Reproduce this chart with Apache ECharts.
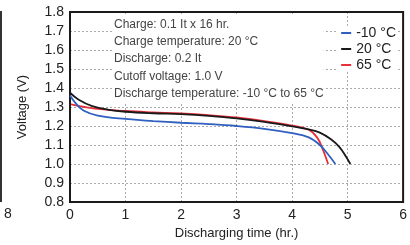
<!DOCTYPE html>
<html>
<head>
<meta charset="utf-8">
<script src="https://cdn.jsdelivr.net/npm/echarts@6/dist/echarts.min.js"></script>
<style>
  html, body { margin: 0; padding: 0; background: #fff; }
  #chart { width: 410px; height: 245px; }
</style>
</head>
<body>
<div id="chart"></div>
<script>
// discharge curves: [time (hr), voltage (V)]
const minus10 = [[0, 1.36], [0.1, 1.32], [0.25, 1.28], [0.5, 1.255], [1, 1.237], [1.5, 1.226], [2, 1.217],
  [2.5, 1.21], [3, 1.2], [3.5, 1.185], [4, 1.162], [4.3, 1.14], [4.5, 1.1], [4.65, 1.05], [4.78, 1.0]]
const plus20 = [[0, 1.375], [0.15, 1.34], [0.4, 1.305], [0.7, 1.285], [1, 1.275], [1.5, 1.267], [2, 1.262],
  [2.5, 1.253], [3, 1.24], [3.5, 1.222], [4, 1.198], [4.3, 1.182], [4.5, 1.165], [4.7, 1.13], [4.85, 1.09],
  [4.97, 1.04], [5.05, 1.0]]
const plus65 = [[0, 1.315], [0.3, 1.298], [0.6, 1.287], [1, 1.279], [1.5, 1.272], [2, 1.266], [2.5, 1.257],
  [3, 1.245], [3.5, 1.226], [4, 1.202], [4.3, 1.18], [4.45, 1.14], [4.55, 1.08], [4.65, 1.0]]
const seriesNames = ['-10 °C', '20 °C', '65 °C']
const seriesColors = ['#2f5fbf', '#1a1a1a', '#e8303a']
const notes = [
  'Charge: 0.1 It x 16 hr.',
  'Charge temperature: 20 °C',
  'Discharge: 0.2 It',
  'Cutoff voltage: 1.0 V',
  'Discharge temperature: -10 °C to 65 °C'
]

const narrow = '"Liberation Sans Narrow", "Liberation Sans", Arial, sans-serif'
const chart = echarts.init(document.getElementById('chart'), null, { renderer: 'canvas' })
chart.setOption({
  animation: false,
  grid: {
    left: 70,
    right: 5,
    top: 12,
    bottom: 43,
    show: true,
    borderColor: '#1a1a1a',
    borderWidth: 2,
    z: 5
  },
  legend: {
    orient: 'vertical',
    right: 14,
    top: 26,
    itemWidth: 10,
    itemHeight: 2,
    itemGap: 2,
    icon: 'rect',
    backgroundColor: '#fff',
    padding: [0, 0, 0, 4],
    textStyle: {
      fontFamily: 'Liberation Sans, Arial, sans-serif', fontSize: 14, color: '#222',
      width: 42, align: 'right'
    },
    data: seriesNames
  },
  xAxis: {
    type: 'value',
    min: 0,
    max: 6,
    interval: 1,
    name: 'Discharging time (hr.)',
    nameLocation: 'middle',
    nameGap: 20,
    nameTextStyle: { fontFamily: narrow, fontSize: 13, color: '#222' },
    axisLine: { show: false },
    axisTick: { show: false },
    axisLabel: { fontFamily: narrow, fontSize: 14, color: '#222', margin: 6 },
    splitLine: { lineStyle: { color: '#aaa', type: [2, 2] } }
  },
  yAxis: {
    type: 'value',
    min: 0.8,
    max: 1.8,
    interval: 0.1,
    name: 'Voltage (V)',
    nameLocation: 'middle',
    nameRotate: 90,
    nameGap: 41,
    nameTextStyle: { fontFamily: narrow, fontSize: 13, color: '#222' },
    axisLine: { show: false },
    axisTick: { show: false },
    axisLabel: {
      fontFamily: narrow, fontSize: 14, color: '#222', margin: 6,
      formatter: v => v.toFixed(1)
    },
    splitLine: { lineStyle: { color: '#aaa', type: [2, 2] } }
  },
  graphic: [
    {
      type: 'text',
      left: 114,
      top: 16,
      z: 10,
      style: {
        text: notes.join('\n'),
        fontFamily: narrow,
        fontSize: 12,
        lineHeight: 17.2,
        fill: '#444',
        backgroundColor: '#fff'
      }
    },
    { type: 'rect', left: 0, top: 11, shape: { width: 2, height: 191 }, style: { fill: '#333' } },
    { type: 'text', left: 4, top: 207, style: { text: '8', fontFamily: narrow, fontSize: 14, fill: '#222' } }
  ],
  series: [minus10, plus20, plus65].map((d, i) => ({
    name: seriesNames[i],
    type: 'line',
    data: d,
    smooth: 0.4,
    showSymbol: false,
    color: seriesColors[i],
    lineStyle: { width: 1.8, color: seriesColors[i] },
    z: 3 - i + 2
  }))
})
</script>
</body>
</html>
